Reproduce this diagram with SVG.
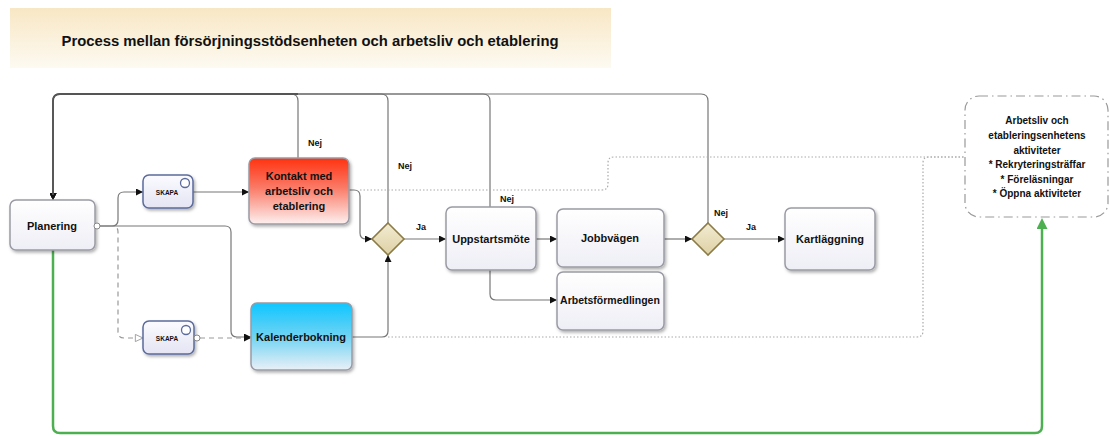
<svg xmlns="http://www.w3.org/2000/svg" width="1110" height="436" viewBox="0 0 1110 436">
<defs>
<linearGradient id="gTitle" x1="0" y1="0" x2="0" y2="1"><stop offset="0" stop-color="#f8e7c5"/><stop offset="1" stop-color="#fdfaf2"/></linearGradient>
<linearGradient id="gTask" x1="0" y1="0" x2="0" y2="1"><stop offset="0" stop-color="#ffffff"/><stop offset="1" stop-color="#eeeef6"/></linearGradient>
<linearGradient id="gSkapa" x1="0" y1="0" x2="0" y2="1"><stop offset="0" stop-color="#fbfbff"/><stop offset="1" stop-color="#e4e4f4"/></linearGradient>
<linearGradient id="gRed" x1="0" y1="0" x2="0" y2="1"><stop offset="0" stop-color="#ff3210"/><stop offset="0.45" stop-color="#fa7a66"/><stop offset="1" stop-color="#fdf0f0"/></linearGradient>
<linearGradient id="gBlue" x1="0" y1="0" x2="0" y2="1"><stop offset="0" stop-color="#0ec6ff"/><stop offset="0.5" stop-color="#6fd3f3"/><stop offset="1" stop-color="#eaf0f6"/></linearGradient>
<linearGradient id="gGate" x1="0" y1="0" x2="0" y2="1"><stop offset="0" stop-color="#f3ecd2"/><stop offset="1" stop-color="#ddd0a4"/></linearGradient>
<filter id="sh" x="-20%" y="-20%" width="150%" height="150%"><feDropShadow dx="1.5" dy="2" stdDeviation="1.5" flood-color="#000" flood-opacity="0.3"/></filter>
<marker id="arr" viewBox="0 0 8 8" refX="8" refY="4" markerWidth="7" markerHeight="7" markerUnits="userSpaceOnUse" orient="auto"><path d="M0,0 L8,4 L0,8 z" fill="#111"/></marker>
<marker id="arrO" viewBox="0 0 10 10" refX="9.5" refY="5" markerWidth="9" markerHeight="9" markerUnits="userSpaceOnUse" orient="auto"><path d="M1,1 L9.5,5 L1,9 z" fill="#fff" stroke="#999" stroke-width="1"/></marker>
<marker id="arrG" viewBox="0 0 10 10" refX="0" refY="5" markerWidth="11" markerHeight="11" markerUnits="userSpaceOnUse" orient="auto"><path d="M0,0 L10,5 L0,10 z" fill="#4caf50"/></marker>
</defs>
<style>
.t{font-family:"Liberation Sans",Arial,sans-serif;font-weight:bold;fill:#111;text-anchor:middle}
.n{font-size:11px}
.lbl{font-family:"Liberation Sans",Arial,sans-serif;font-weight:bold;font-size:9px;fill:#111}
.task{stroke:#9a9aa4;stroke-width:1.5;filter:url(#sh)}
.c{fill:none;stroke:#777;stroke-width:1.2}
.ca{fill:none;stroke:#777;stroke-width:1.2;marker-end:url(#arr)}
.dash{fill:none;stroke:#999;stroke-width:1.2;stroke-dasharray:5 4}
.dot{fill:none;stroke:#aaa;stroke-width:1.2;stroke-dasharray:1.5 2}
</style>
<g id="title">
<rect x="10" y="8" width="601" height="60" fill="url(#gTitle)"/>
<text class="t" x="310" y="46" font-size="14" textLength="497" lengthAdjust="spacingAndGlyphs">Process mellan försörjningsstödsenheten och arbetsliv och etablering</text>
</g>
<g id="connectors">
<path class="ca" d="M298,158 V101 Q298,94 291,94 H60 Q53,94 53,101 V200"/>
<path class="ca" d="M388,223 V101 Q388,94 381,94 H60 Q53,94 53,101 V200"/>
<path class="ca" d="M490,207 V101 Q490,94 483,94 H60 Q53,94 53,101 V200"/>
<path class="ca" d="M708,223 V101 Q708,94 701,94 H60 Q53,94 53,101 V200"/>
<path fill="none" stroke="#555" stroke-width="1.8" d="M298,94 H60 Q53,94 53,101 V195"/>
<path class="ca" d="M100,226 H112 Q118,226 118,220 V198 Q118,192 124,192 H143"/>
<path class="ca" d="M100,226 H225 Q231,226 231,232 V331 Q231,337 237,337 H251"/>
<path class="dash" marker-end="url(#arrO)" d="M100,226 H112 Q118,226 118,232 V332 Q118,338 124,338 H143"/>
<path class="ca" d="M193,192 H249"/>
<path class="dash" marker-end="url(#arr)" d="M200,338 H251"/>
<path class="ca" d="M349,190 H354 Q360,190 360,196 V233 Q360,239 366,239 H372"/>
<path class="ca" d="M352,337 H382 Q388,337 388,331 V255"/>
<path class="ca" d="M404,239 H446"/>
<path class="ca" d="M536,239 H557"/>
<path class="ca" d="M490,270 V294 Q490,300 496,300 H557"/>
<path class="ca" d="M664,239 H692"/>
<path class="ca" d="M724,239 H785"/>
<path class="dot" d="M360,190 H602 Q608,190 608,184 V163 Q608,157 614,157 H965"/>
<path class="dot" d="M388,337 H917 Q923,337 923,331 V163 Q923,157 929,157 H965"/>
<path fill="none" stroke="#4caf50" stroke-width="2.5" marker-end="url(#arrG)" d="M53,250 V426 Q53,433 60,433 H1035 Q1042,433 1042,426 V229"/>
<text class="lbl" x="308" y="146">Nej</text>
<text class="lbl" x="398" y="169">Nej</text>
<text class="lbl" x="500" y="202">Nej</text>
<text class="lbl" x="714" y="216">Nej</text>
<text class="lbl" x="416" y="230">Ja</text>
<text class="lbl" x="746" y="230">Ja</text>
</g>
<g id="planering">
<rect class="task" x="10" y="200" width="85" height="50" rx="6" fill="url(#gTask)"/>
<text class="t n" x="52" y="230">Planering</text>
<circle cx="97" cy="226" r="3" fill="#fff" stroke="#888" stroke-width="1"/>
</g>
<g id="skapa1">
<rect class="task" x="143" y="175" width="50" height="33" rx="6" fill="url(#gSkapa)" style="stroke:#5b6b9c"/>
<circle cx="185" cy="183" r="4.5" fill="#fff" stroke="#5b6b9c" stroke-width="1.3"/>
<text class="t" x="167" y="194.5" font-size="6.5">SKAPA</text>
</g>
<g id="kontakt">
<rect class="task" x="249" y="158" width="100" height="66" rx="6" fill="url(#gRed)"/>
<text class="t n" x="299" y="180">Kontakt med</text>
<text class="t n" x="299" y="195">arbetsliv och</text>
<text class="t n" x="299" y="210">etablering</text>
</g>
<g id="skapa2">
<rect class="task" x="143" y="321" width="51" height="33" rx="6" fill="url(#gSkapa)" style="stroke:#5b6b9c"/>
<circle cx="186" cy="330" r="4.5" fill="#fff" stroke="#5b6b9c" stroke-width="1.3"/>
<text class="t" x="167" y="340.5" font-size="6.5">SKAPA</text>
<circle cx="197" cy="338" r="3" fill="#fff" stroke="#888" stroke-width="1"/>
</g>
<g id="kalender">
<rect class="task" x="251" y="303" width="101" height="67" rx="6" fill="url(#gBlue)"/>
<text class="t n" x="301" y="341">Kalenderbokning</text>
</g>
<g id="gateway1">
<path d="M388,223 L404,239 L388,255 L372,239 z" fill="url(#gGate)" stroke="#8c7b45" stroke-width="1.6"/>
</g>
<g id="uppstart">
<rect class="task" x="446" y="207" width="90" height="63" rx="6" fill="url(#gTask)"/>
<text class="t n" x="491" y="243">Uppstartsmöte</text>
</g>
<g id="jobbvagen">
<rect class="task" x="557" y="209" width="107" height="58" rx="6" fill="url(#gTask)"/>
<text class="t n" x="610" y="242">Jobbvägen</text>
</g>
<g id="arbetsformedlingen">
<rect class="task" x="557" y="272" width="107" height="58" rx="6" fill="url(#gTask)"/>
<text class="t" x="610" y="304" font-size="10.5">Arbetsförmedlingen</text>
</g>
<g id="gateway2">
<path d="M708,223 L724,239 L708,255 L692,239 z" fill="url(#gGate)" stroke="#8c7b45" stroke-width="1.6"/>
</g>
<g id="kartlaggning">
<rect class="task" x="785" y="208" width="90" height="62" rx="6" fill="url(#gTask)"/>
<text class="t n" x="830" y="243">Kartläggning</text>
</g>
<g id="annotation">
<rect x="965" y="96" width="143" height="121" rx="14" fill="#fff" stroke="#999" stroke-width="1.2" stroke-dasharray="9 4 1.5 4"/>
<text class="t" font-size="10" x="1037" y="124">Arbetsliv och</text>
<text class="t" font-size="10" x="1037" y="139">etableringsenhetens</text>
<text class="t" font-size="10" x="1037" y="154">aktiviteter</text>
<text class="t" font-size="10" x="1037" y="168">* Rekryteringsträffar</text>
<text class="t" font-size="10" x="1037" y="183">* Föreläsningar</text>
<text class="t" font-size="10" x="1037" y="197">* Öppna aktiviteter</text>
</g>
</svg>
